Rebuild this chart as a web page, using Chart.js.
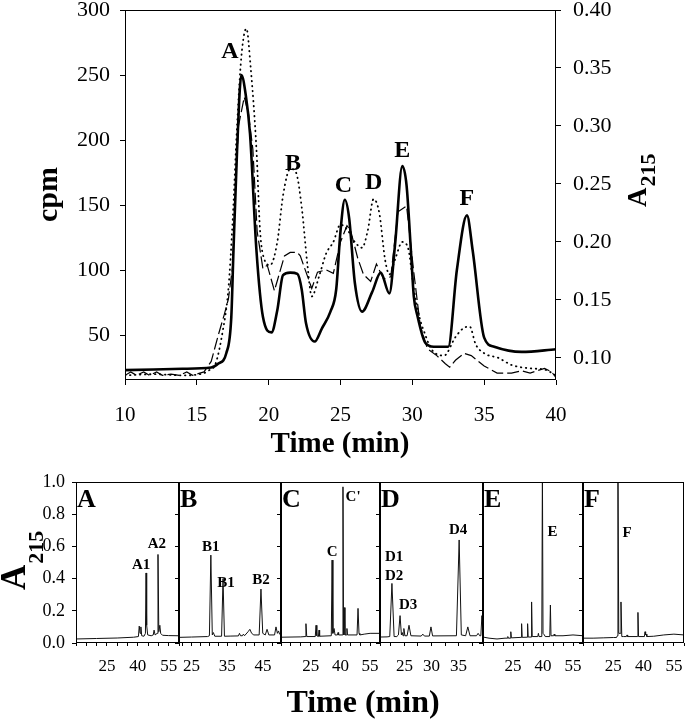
<!DOCTYPE html>
<html>
<head>
<meta charset="utf-8">
<script src="https://cdn.jsdelivr.net/npm/chart.js@4.4.1/dist/chart.umd.min.js"></script>
<style>
  html, body { margin: 0; padding: 0; background: #fff; }
  #wrap { position: relative; width: 686px; height: 719px; overflow: hidden; background: #fff; }
  canvas { position: absolute; left: 0; }
</style>
</head>
<body>
<div id="wrap">
  <canvas id="top" width="686" height="465" style="top:0"></canvas>
  <canvas id="pA" width="686" height="249" style="top:470px"></canvas>
  <canvas id="pB" width="686" height="249" style="top:470px"></canvas>
  <canvas id="pC" width="686" height="249" style="top:470px"></canvas>
  <canvas id="pD" width="686" height="249" style="top:470px"></canvas>
  <canvas id="pE" width="686" height="249" style="top:470px"></canvas>
  <canvas id="pF" width="686" height="249" style="top:470px"></canvas>
</div>
<script>
// ---------------- DATA: top chromatogram ----------------
const cpmTicks = [50, 100, 150, 200, 250, 300];
const a215Ticks = [0.10, 0.15, 0.20, 0.25, 0.30, 0.35, 0.40];
const timeTicks = [10, 15, 20, 25, 30, 35, 40];

// solid line (cpm)
const solidTime = [10, 12, 14, 16, 16.5, 17.05, 17.4, 17.55, 17.8, 18.1, 18.4, 18.7, 19.15, 19.6, 20.2, 20.6, 21.0, 21.5, 22.0, 22.3, 22.6, 23.2, 23.7, 24.3, 24.7, 25.0, 25.3, 25.6, 26.0, 26.5, 27.2, 27.8, 28.4, 28.8, 29.3, 29.6, 29.9, 30.1, 30.35, 30.9, 31.5, 32.5, 33.1, 33.8, 34.2, 35.0, 35.7, 37.6, 40];
const solidCpm  = [23, 23.5, 24, 25, 28, 36, 64, 115, 192, 250, 235, 205, 115, 64, 52, 69, 96, 98, 97, 85, 59, 45, 55, 68, 85, 130, 154, 140, 90, 68, 83, 98, 82, 120, 180, 165, 115, 80, 65, 44, 41, 41, 100, 142, 115, 48, 41, 37, 39];

// dotted line (A215)
const dotTime = [10, 12, 14, 15.5, 15.8, 16.3, 16.8, 17.2, 17.5, 17.8, 18.1, 18.45, 18.75, 19.15, 19.4, 19.7, 20.1, 20.6, 21.0, 21.5, 21.9, 22.3, 22.7, 23.0, 23.5, 24.0, 24.5, 25.0, 25.5, 26.0, 26.5, 26.9, 27.3, 27.7, 28.1, 28.4, 28.8, 29.3, 29.7, 30.1, 30.5, 30.9, 31.3, 32.2, 33.0, 33.6, 34.0, 34.4, 35.0, 36.0, 36.9, 38.2, 39.2, 40];
const dotA215 = [0.085, 0.086, 0.085, 0.087, 0.089, 0.095, 0.123, 0.16, 0.22, 0.30, 0.36, 0.384, 0.35, 0.28, 0.21, 0.185, 0.18, 0.20, 0.24, 0.263, 0.26, 0.23, 0.18, 0.153, 0.17, 0.19, 0.20, 0.215, 0.21, 0.20, 0.195, 0.21, 0.237, 0.225, 0.185, 0.172, 0.185, 0.20, 0.195, 0.16, 0.135, 0.12, 0.108, 0.102, 0.118, 0.126, 0.127, 0.112, 0.104, 0.10, 0.094, 0.091, 0.09, 0.085];

// dashed line (A215)
const dashTime = [10, 10.4, 10.8, 11.3, 11.7, 12.2, 12.6, 13.2, 13.8, 14.3, 14.7, 15.5, 16.0, 16.5, 16.9, 17.2, 17.5, 17.7, 17.9, 18.3, 18.6, 18.9, 19.2, 19.6, 19.9, 20.4, 21.1, 21.5, 22.0, 22.2, 23.0, 23.4, 24.0, 24.5, 25.0, 25.45, 25.7, 26.2, 26.6, 27.1, 27.5, 28.0, 28.5, 29.0, 29.6, 30.1, 30.55, 31.05, 31.7, 32.3, 32.6, 33.0, 33.6, 34.1, 35.0, 35.9, 36.9, 37.6, 38.2, 39.2, 39.7, 40];
const dashA215 = [0.085, 0.088, 0.085, 0.088, 0.085, 0.088, 0.085, 0.086, 0.085, 0.088, 0.085, 0.088, 0.097, 0.12, 0.137, 0.151, 0.18, 0.25, 0.30, 0.325, 0.31, 0.28, 0.209, 0.177, 0.18, 0.158, 0.188, 0.191, 0.191, 0.188, 0.16, 0.174, 0.176, 0.173, 0.20, 0.214, 0.21, 0.186, 0.172, 0.166, 0.181, 0.168, 0.17, 0.226, 0.231, 0.174, 0.128, 0.108, 0.102, 0.095, 0.092, 0.098, 0.104, 0.102, 0.093, 0.087, 0.087, 0.089, 0.087, 0.091, 0.088, 0.083];

// peak letters on top chart (time, cpm)
const topPeakNames = ['A', 'B', 'C', 'D', 'E', 'F'];
const topPeakTime  = [17.3, 21.7, 25.2, 27.3, 29.3, 33.8];
const topPeakCpm   = [268, 182, 165, 167, 192, 155];

// ---------------- DATA: six HPLC panels ----------------
const panelY_ticks = [0, 0.2, 0.4, 0.6, 0.8, 1.0];

const panelA_time = [10, 20, 30, 38, 40.3, 40.7, 41.1, 41.5, 41.9, 43.0, 43.7, 44.0, 44.3, 44.8, 46.5, 47.5, 47.9, 48.4, 49.4, 49.8, 50.2, 50.7, 51.1, 52, 55, 60];
const panelA_a215 = [0.025, 0.028, 0.031, 0.036, 0.04, 0.105, 0.06, 0.1, 0.045, 0.042, 0.06, 0.435, 0.11, 0.05, 0.045, 0.05, 0.08, 0.05, 0.06, 0.55, 0.07, 0.11, 0.06, 0.048, 0.046, 0.045];

const panelB_time = [21.5, 25, 29.5, 30.0, 30.4, 30.8, 31.1, 31.5, 33.4, 33.8, 34.2, 36, 38.1, 38.4, 38.7, 39.2, 39.5, 39.8, 40.8, 41.3, 41.8, 42.4, 43.9, 44.4, 44.9, 45.6, 46.1, 46.6, 48.2, 48.6, 49.0, 49.3, 49.6, 50];
const panelB_a215 = [0.035, 0.037, 0.04, 0.045, 0.546, 0.05, 0.065, 0.042, 0.042, 0.40, 0.042, 0.043, 0.044, 0.06, 0.045, 0.045, 0.055, 0.045, 0.07, 0.085, 0.06, 0.05, 0.05, 0.335, 0.06, 0.05, 0.085, 0.05, 0.05, 0.10, 0.06, 0.075, 0.055, 0.05];

const panelC_time = [10, 20, 22.2, 22.6, 23.0, 27.3, 27.7, 28.1, 28.9, 29.2, 29.5, 35.4, 35.8, 36.2, 36.8, 37.3, 38.5, 38.8, 39.1, 41.0, 41.3, 41.6, 41.9, 42.3, 43.0, 43.3, 43.6, 48.4, 48.9, 49.4, 49.8, 52, 55, 60];
const panelC_a215 = [0.036, 0.038, 0.04, 0.12, 0.04, 0.04, 0.11, 0.045, 0.04, 0.08, 0.042, 0.045, 0.515, 0.06, 0.09, 0.05, 0.05, 0.065, 0.05, 0.05, 0.97, 0.05, 0.22, 0.05, 0.05, 0.09, 0.05, 0.05, 0.215, 0.06, 0.05, 0.055, 0.06, 0.06];

const panelD_time = [20.5, 21.8, 22.3, 22.7, 23.1, 23.6, 23.9, 24.2, 24.45, 24.6, 24.75, 24.9, 25.1, 25.5, 25.85, 26.2, 28.1, 28.4, 28.7, 29.6, 29.9, 30.2, 34.6, 35.1, 35.5, 36.3, 36.7, 37.1, 38.3, 38.6, 38.9, 39.1, 39.3, 39.5];
const panelD_a215 = [0.037, 0.038, 0.04, 0.37, 0.04, 0.04, 0.05, 0.17, 0.05, 0.065, 0.045, 0.09, 0.045, 0.045, 0.11, 0.045, 0.043, 0.055, 0.043, 0.043, 0.1, 0.044, 0.045, 0.64, 0.05, 0.045, 0.1, 0.045, 0.045, 0.06, 0.045, 0.045, 0.17, 0.05];

const panelE_time = [10, 13, 17, 21, 22.1, 22.4, 22.7, 23.6, 23.9, 24.2, 29.0, 29.3, 29.6, 32.0, 32.3, 32.6, 34.0, 34.3, 34.6, 37.4, 37.7, 38.0, 39.4, 39.7, 40.0, 40.7, 41.1, 43.4, 43.7, 44.0, 45.3, 45.6, 45.9, 50, 55, 60];
const panelE_a215 = [0.037, 0.03, 0.025, 0.03, 0.03, 0.04, 0.03, 0.03, 0.07, 0.032, 0.035, 0.12, 0.035, 0.036, 0.12, 0.037, 0.037, 0.255, 0.04, 0.04, 0.06, 0.04, 0.04, 1.1, 0.06, 0.05, 0.04, 0.04, 0.236, 0.045, 0.045, 0.055, 0.045, 0.045, 0.05, 0.045];

const panelF_time = [10, 15, 20, 25, 26.6, 27.0, 27.3, 27.7, 28.5, 28.8, 29.2, 30, 31.5, 31.8, 32.1, 36.9, 37.2, 37.5, 40.4, 40.7, 41.0, 41.3, 41.6, 45, 50, 55, 60];
const panelF_a215 = [0.03, 0.03, 0.032, 0.034, 0.034, 0.045, 1.1, 0.06, 0.06, 0.255, 0.04, 0.04, 0.04, 0.05, 0.04, 0.04, 0.19, 0.04, 0.04, 0.07, 0.05, 0.055, 0.04, 0.042, 0.05, 0.055, 0.05];

// axis tick values per panel (minor marks) and which ones carry labels
const panelWideTicks = [10, 15, 20, 25, 30, 35, 40, 45, 50, 55, 60];
const panelWideLabels = [25, 40, 55];
const panelB_ticks = [22.5, 25, 27.5, 30, 32.5, 35, 37.5, 40, 42.5, 45, 47.5, 50];
const panelB_labels = [25, 35, 45];
const panelD_ticks = [22.5, 25, 27.5, 30, 32.5, 35, 37.5];
const panelD_labels = [25, 30, 35];

// peak names in the panels (time, A215)
const panelA_peakNames = ['A1', 'A2'];   const panelA_peakTime = [41.6, 49.3]; const panelA_peakVal = [0.484, 0.615];
const panelB_peakNames = ['B1', 'B1', 'B2']; const panelB_peakTime = [30.4, 34.6, 44.4]; const panelB_peakVal = [0.596, 0.373, 0.391];
const panelC_peakNames = ['C', "C'"];    const panelC_peakTime = [35.8, 46.4]; const panelC_peakVal = [0.565, 0.907];
const panelD_peakNames = ['D1', 'D2', 'D3', 'D4']; const panelD_peakTime = [23.1, 23.1, 25.7, 34.9]; const panelD_peakVal = [0.534, 0.416, 0.236, 0.70];
const panelE_peakNames = ['E'];          const panelE_peakTime = [44.7]; const panelE_peakVal = [0.69];
const panelF_peakNames = ['F'];          const panelF_peakTime = [31.8]; const panelF_peakVal = [0.683];

// ---------------- drawing ----------------
const SERIF = '"Liberation Serif", "Times New Roman", Times, serif';
const pts = (xs, ys) => xs.map((x, i) => ({ x: x, y: ys[i] }));
const noPad = s => { s.paddingTop = 0; s.paddingBottom = 0; s.paddingLeft = 0; s.paddingRight = 0; };

const framePlugin = {
  id: 'frame',
  afterDatasetsDraw(chart) {
    const a = chart.chartArea, c = chart.ctx;
    c.save();
    c.strokeStyle = '#000';
    c.lineWidth = 1;
    c.strokeRect(Math.round(a.left) + 0.5, Math.round(a.top) + 0.5,
                 Math.round(a.right - a.left) - 1, Math.round(a.bottom - a.top) - 1);
    c.restore();
  }
};

function rotatedSub(ctx, x0, y0, main, mainFont, sub, subFont, subDrop) {
  ctx.save();
  ctx.translate(x0, y0);
  ctx.rotate(-Math.PI / 2);
  ctx.textAlign = 'left';
  ctx.textBaseline = 'alphabetic';
  ctx.font = mainFont;
  ctx.fillText(main, 0, 0);
  const w = ctx.measureText(main).width;
  if (sub) {
    ctx.font = subFont;
    ctx.fillText(sub, w + 1, subDrop);
  }
  ctx.restore();
}

const topText = {
  id: 'topText',
  afterDraw(chart) {
    const c = chart.ctx;
    c.save();
    c.fillStyle = '#000';
    rotatedSub(c, 57, 222, 'cpm', 'bold 30px ' + SERIF, null);
    rotatedSub(c, 646, 207, 'A', 'bold 27px ' + SERIF, '215', 'bold 22px ' + SERIF, 9);
    c.font = 'bold 29px ' + SERIF;
    c.textAlign = 'center';
    c.textBaseline = 'alphabetic';
    c.fillText('Time (min)', 340, 452);
    c.font = 'bold 24px ' + SERIF;
    c.textBaseline = 'middle';
    const xs = chart.scales.x, ys = chart.scales.y;
    topPeakNames.forEach((n, i) => {
      c.fillText(n, xs.getPixelForValue(topPeakTime[i]), ys.getPixelForValue(topPeakCpm[i]));
    });
    c.restore();
  }
};

const tickFontTop = { family: SERIF, size: 22 };

new Chart(document.getElementById('top'), {
  type: 'line',
  data: {
    datasets: [
      { data: pts(solidTime, solidCpm), yAxisID: 'y', borderColor: '#000', borderWidth: 2.6,
        pointRadius: 0, fill: false, cubicInterpolationMode: 'monotone' },
      { data: pts(dotTime, dotA215), yAxisID: 'y2', borderColor: '#000', borderWidth: 1.8,
        borderDash: [0.5, 4.5], borderCapStyle: 'round', pointRadius: 0, fill: false,
        cubicInterpolationMode: 'monotone' },
      { data: pts(dashTime, dashA215), yAxisID: 'y2', borderColor: '#000', borderWidth: 1.2,
        borderDash: [12, 4], pointRadius: 0, fill: false, tension: 0 }
    ]
  },
  options: {
    responsive: false, animation: false, events: [],
    layout: { padding: { top: 10, left: 0, right: 0, bottom: 0 } },
    plugins: { legend: { display: false }, tooltip: { enabled: false } },
    scales: {
      x: {
        type: 'linear', position: 'bottom', min: 10, max: 40,
        afterBuildTicks: s => { s.ticks = timeTicks.map(v => ({ value: v })); },
        afterFit: s => { s.height = 85; noPad(s); },
        ticks: { font: { family: SERIF, size: 21 }, color: '#000', padding: 18, maxRotation: 0, autoSkip: false,
                 callback: v => String(v) },
        grid: { drawOnChartArea: false, drawTicks: true, tickLength: 5, color: '#000' },
        border: { display: false }
      },
      y: {
        type: 'linear', position: 'left', min: 15.4, max: 300,
        afterBuildTicks: s => { s.ticks = cpmTicks.map(v => ({ value: v })); },
        afterFit: s => { s.width = 125; noPad(s); },
        ticks: { font: tickFontTop, color: '#000', padding: 10, autoSkip: false, callback: v => String(v) },
        grid: { drawOnChartArea: false, drawTicks: true, tickLength: 5, color: '#000' },
        border: { display: false }
      },
      y2: {
        type: 'linear', position: 'right', min: 0.081, max: 0.40,
        afterBuildTicks: s => { s.ticks = a215Ticks.map(v => ({ value: v })); },
        afterFit: s => { s.width = 130; noPad(s); },
        ticks: { font: tickFontTop, color: '#000', padding: 12, autoSkip: false, callback: v => v.toFixed(2) },
        grid: { drawOnChartArea: false, drawTicks: true, tickLength: 5, color: '#000' },
        border: { display: false }
      }
    }
  },
  plugins: [framePlugin, topText]
});

// bottom panels
const panels = [
  { id: 'pA', left: 76,  right: 179, min: 10,   max: 60,   ticks: panelWideTicks, labels: panelWideLabels, t: panelA_time, v: panelA_a215, name: 'A', pn: panelA_peakNames, pt: panelA_peakTime, pv: panelA_peakVal },
  { id: 'pB', left: 179, right: 281, min: 21.5, max: 50,   ticks: panelB_ticks,   labels: panelB_labels,   t: panelB_time, v: panelB_a215, name: 'B', pn: panelB_peakNames, pt: panelB_peakTime, pv: panelB_peakVal },
  { id: 'pC', left: 281, right: 380, min: 10,   max: 60,   ticks: panelWideTicks, labels: panelWideLabels, t: panelC_time, v: panelC_a215, name: 'C', pn: panelC_peakNames, pt: panelC_peakTime, pv: panelC_peakVal },
  { id: 'pD', left: 380, right: 483, min: 20.5, max: 39.5, ticks: panelD_ticks,   labels: panelD_labels,   t: panelD_time, v: panelD_a215, name: 'D', pn: panelD_peakNames, pt: panelD_peakTime, pv: panelD_peakVal },
  { id: 'pE', left: 483, right: 583, min: 10,   max: 60,   ticks: panelWideTicks, labels: panelWideLabels, t: panelE_time, v: panelE_a215, name: 'E', pn: panelE_peakNames, pt: panelE_peakTime, pv: panelE_peakVal },
  { id: 'pF', left: 583, right: 684, min: 10,   max: 60,   ticks: panelWideTicks, labels: panelWideLabels, t: panelF_time, v: panelF_a215, name: 'F', pn: panelF_peakNames, pt: panelF_peakTime, pv: panelF_peakVal }
];

panels.forEach((p, idx) => {
  const first = idx === 0;
  const yW = first ? 76 : 5;
  const panelText = {
    id: 'panelText' + p.name,
    afterDraw(chart) {
      const c = chart.ctx, a = chart.chartArea;
      c.save();
      c.fillStyle = '#000';
      c.textAlign = 'left';
      c.textBaseline = 'alphabetic';
      c.font = 'bold 26px ' + SERIF;
      c.fillText(p.name, a.left + 1, a.top + 25);
      c.font = 'bold 15px ' + SERIF;
      c.textAlign = 'center';
      c.textBaseline = 'middle';
      const xs = chart.scales.x, ys = chart.scales.y;
      p.pn.forEach((n, i) => {
        c.fillText(n, xs.getPixelForValue(p.pt[i]), ys.getPixelForValue(p.pv[i]));
      });
      if (first) {
        rotatedSub(c, 25, 120, 'A', 'bold 35px ' + SERIF, '215', 'bold 22px ' + SERIF, 18);
        c.font = 'bold 32px ' + SERIF;
        c.textAlign = 'center';
        c.textBaseline = 'alphabetic';
        c.fillText('Time (min)', 363, 242);
      }
      c.restore();
    }
  };
  new Chart(document.getElementById(p.id), {
    type: 'line',
    data: { datasets: [{ data: pts(p.t, p.v), borderColor: '#111', borderWidth: 1, pointRadius: 0, fill: false, tension: 0 }] },
    options: {
      responsive: false, animation: false, events: [],
      layout: { padding: { top: 12, left: p.left - yW, right: 686 - p.right, bottom: 0 } },
      plugins: { legend: { display: false }, tooltip: { enabled: false } },
      scales: {
        x: {
          type: 'linear', position: 'bottom', min: p.min, max: p.max,
          afterBuildTicks: s => { s.ticks = p.ticks.map(v => ({ value: v })); },
          afterFit: s => { s.height = 76; noPad(s); },
          ticks: { font: { family: SERIF, size: 17 }, color: '#000', padding: 10, maxRotation: 0, autoSkip: false,
                   callback: v => (p.labels.indexOf(v) >= 0 ? String(v) : '') },
          grid: { drawOnChartArea: false, drawTicks: true, tickLength: 3, color: '#000' },
          border: { display: false }
        },
        y: {
          type: 'linear', position: 'left', min: 0, max: 1.0,
          afterBuildTicks: s => { s.ticks = panelY_ticks.map(v => ({ value: v })); },
          afterFit: s => { s.width = yW; noPad(s); },
          ticks: { display: first, font: { family: SERIF, size: 18 }, color: '#000', padding: 7, autoSkip: false,
                   callback: v => v.toFixed(1) },
          grid: { drawOnChartArea: false, drawTicks: true, tickLength: 4, color: '#000' },
          border: { display: false }
        }
      }
    },
    plugins: [framePlugin, panelText]
  });
});
</script>
</body>
</html>
